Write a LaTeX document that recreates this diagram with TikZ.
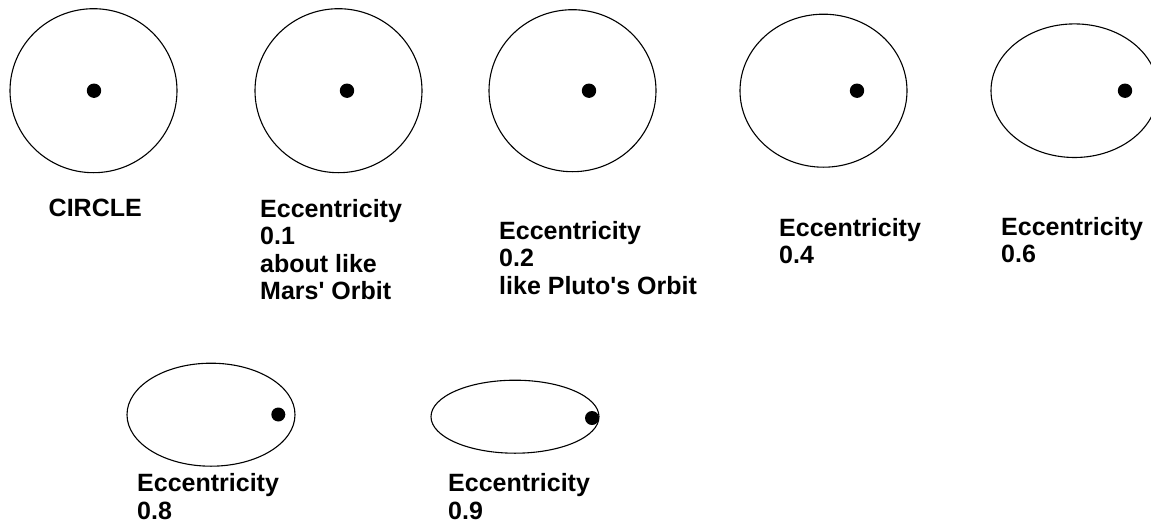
\documentclass[tikz,border=0pt]{standalone}
\usepackage{fontspec}
\setmainfont{Liberation Sans}[Ligatures=TeXOff]
\begin{document}
\begin{tikzpicture}[x=1pt,y=-1pt,
  orbit/.style={draw=black, line width=1.1pt},
  sun/.style={fill=black},
  lbl/.style={anchor=north west, inner sep=0pt, align=left,
    font=\bfseries\fontsize{25}{27.5}\selectfont}]
\useasboundingbox (0,0) rectangle (1151,525);
\begin{scope}
\clip (0,0) rectangle (1151,525);
% top row
\draw[orbit] (93.5,90.7) ellipse [x radius=83.5pt, y radius=82pt];
\fill[sun] (94,90.7) circle [radius=7.2pt];
\draw[orbit] (338.5,90.7) ellipse [x radius=83.5pt, y radius=82pt];
\fill[sun] (347,90.7) circle [radius=7.2pt];
\draw[orbit] (572.5,90.7) ellipse [x radius=83.5pt, y radius=81pt];
\fill[sun] (589,90.7) circle [radius=7.2pt];
\draw[orbit] (823.5,90.7) ellipse [x radius=83.5pt, y radius=76.5pt];
\fill[sun] (857,90.7) circle [radius=7.2pt];
\draw[orbit] (1074.5,90.7) ellipse [x radius=83.5pt, y radius=66.8pt];
\fill[sun] (1125,90.7) circle [radius=7.2pt];
% bottom row
\draw[orbit] (211,414.7) ellipse [x radius=84pt, y radius=51.5pt];
\fill[sun] (278.3,414.5) circle [radius=7pt];
\draw[orbit] (515,416.7) ellipse [x radius=84pt, y radius=36.5pt];
\fill[sun] (592,418) circle [radius=7pt];
\end{scope}
% labels
\node[lbl] (l0) at (48.5,199) {CIRCLE};
\node[lbl] (l1) at (260,199) {Eccentricity\\0.1\\about like\\Mars' Orbit};
\node[lbl] (l2) at (499,221) {Eccentricity\\0.2\\like Pluto's Orbit};
\node[lbl] (l4) at (779,218) {Eccentricity\\0.4};
\node[lbl] (l6) at (1001,217) {Eccentricity\\0.6};
\node[lbl] (l8) at (137,473.5) {Eccentricity\\0.8};
\node[lbl] (l9) at (448,473.5) {Eccentricity\\0.9};
\end{tikzpicture}
\end{document}
